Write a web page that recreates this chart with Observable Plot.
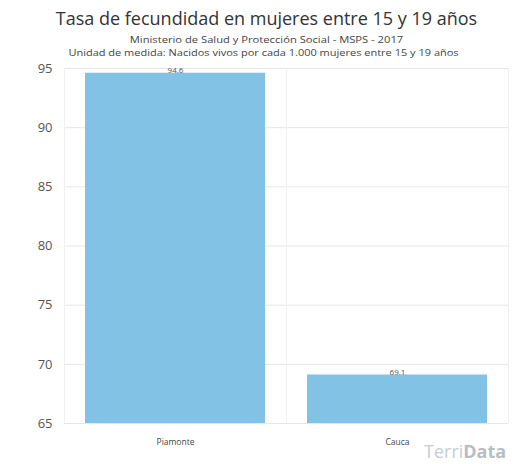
<!DOCTYPE html>
<html>
<head>
<meta charset="utf-8">
<script src="https://cdn.jsdelivr.net/npm/d3@7"></script>
<script src="https://cdn.jsdelivr.net/npm/@observablehq/plot@0.6"></script>
<style>
  html, body { margin: 0; padding: 0; background: #fff; }
  body { width: 517px; height: 464px; overflow: hidden; position: relative; font-family: "Open Sans", "Noto Sans", sans-serif; }
  #title { position: absolute; top: 5px; left: 8px; width: 517px; text-align: center; font-size: 18px; line-height: 26px; color: #333; }
  #sub1 { position: absolute; top: 33px; left: 8px; width: 517px; text-align: center; font-size: 11.2px; line-height: 13px; color: #444; transform: scaleY(0.75); }
  #sub2 { position: absolute; top: 46px; left: 5px; width: 517px; text-align: center; font-size: 11px; line-height: 13px; color: #444; transform: scaleY(0.75); }
  #chart { position: absolute; top: 60px; left: 0; }
  #wm { position: absolute; left: 424px; top: 441px; font-size: 18px; line-height: 20px; color: #c8ccd2; white-space: nowrap; }
  #wm b { color: #b8bcc4; }
</style>
</head>
<body>
<div id="title">Tasa de fecundidad en mujeres entre 15 y 19 años</div>
<div id="sub1">Ministerio de Salud y Protección Social - MSPS - 2017</div>
<div id="sub2">Unidad de medida: Nacidos vivos por cada 1.000 mujeres entre 15 y 19 años</div>
<div id="chart"></div>
<div id="wm">Terri<b>Data</b></div>
<script>
const categories = ["Piamonte", "Cauca"];
const values = [94.6, 69.1];
const yTicks = [65, 70, 75, 80, 85, 90, 95];

const data = categories.map((c, i) => ({ category: c, value: values[i] }));
const fmt = v => v.toFixed(1);

const chart = Plot.plot({
  width: 517,
  height: 404,
  marginTop: 8,
  marginBottom: 41,
  marginLeft: 64,
  marginRight: 9,
  style: { fontFamily: "Open Sans, Noto Sans, sans-serif", background: "transparent" },
  x: { domain: categories, label: null, paddingInner: 0.187, paddingOuter: 0.09, tickSize: 0 },
  y: { domain: [65, 95], ticks: yTicks, label: null, tickSize: 0 },
  marks: [
    Plot.gridY(yTicks, { stroke: "#e6e6e6", strokeOpacity: 1 }),
    Plot.ruleX([categories[0]], { stroke: "#f0f0f0", dx: -111 }),
    Plot.ruleX([categories[1]], { stroke: "#f0f0f0", dx: -111 }),
    Plot.ruleX([categories[1]], { stroke: "#f0f0f0", dx: 111 }),
    Plot.barY(data, { x: "category", y1: 65, y2: "value", fill: "#82c3e5" }),
    Plot.text(data, { x: "category", y: "value", text: d => fmt(d.value), dy: -3, fontSize: 8, fill: "#555" }),
    Plot.axisY(yTicks, { tickSize: 0, tickPadding: 12, fontSize: 13, fill: "#555", anchor: "left" }),
    Plot.axisX(categories, { tickSize: 0, tickPadding: 15, fontSize: 8.5, fill: "#444", anchor: "bottom" })
  ]
});
document.getElementById("chart").appendChild(chart);
</script>
</body>
</html>
